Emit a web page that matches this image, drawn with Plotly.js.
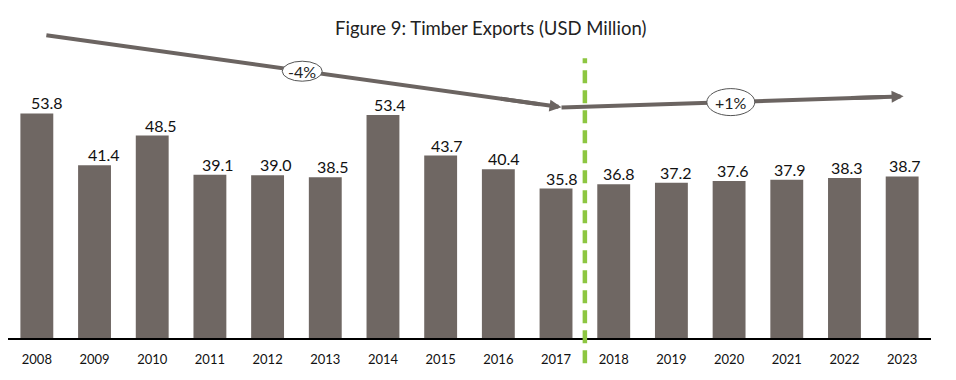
<!DOCTYPE html>
<html>
<head>
<meta charset="utf-8">
<script src="https://cdn.plot.ly/plotly-3.0.1.min.js"></script>
<style>html,body{margin:0;padding:0;background:#fff;}#chart{width:956px;height:380px;}</style>
</head>
<body>
<div id="chart"></div>
<script>
// Data
const years = ['2008','2009','2010','2011','2012','2013','2014','2015','2016','2017','2018','2019','2020','2021','2022','2023'];
const exportsUSDm = [53.8, 41.4, 48.5, 39.1, 39.0, 38.5, 53.4, 43.7, 40.4, 35.8, 36.8, 37.2, 37.6, 37.9, 38.3, 38.7];
const trendLabels = ['-4%', '+1%'];
const chartTitle = 'Figure 9: Timber Exports (USD Million)';

const barColor = '#6f6763';
const arrowColor = '#6b6461';
const greenColor = '#8dc641';
const FONT = 'Lato, Carlito, Calibri, "DejaVu Sans", sans-serif';

const trace = {
  type: 'bar',
  x: years,
  y: exportsUSDm,
  marker: {color: barColor},
  width: 0.57,
  hoverinfo: 'x+y'
};

// value labels (category axis: position by serial index)
const annotations = exportsUSDm.map((v, i) => ({
  x: i, y: v, xref: 'x', yref: 'y',
  text: v.toFixed(1), showarrow: false,
  yanchor: 'bottom', xanchor: 'center', yshift: -1, xshift: 10 - 0.5 * i,
  font: {family: FONT, size: 16, color: '#111'}
}));

// trend arrow geometry (decorative, in axis units: category index / value)
const arr1 = {x0: 0.165, y0: 72.5, xs: 8.713, ys: 56.00, xt: 8.02, yt: 57.34, x1: 9.095, y1: 55.26};
const arr2 = {x0: 9.095, y0: 55.19, xs: 14.695, ys: 57.74, xt: 14.09, yt: 57.46, x1: 15.025, y1: 57.89};
const ell1 = {x: 4.6, y: 63.9, w: 40, h: 20};
const ell2 = {x: 12.03, y: 56.5, w: 48, h: 27};

const shapes = [
  // green dashed divider between 2017 and 2018
  {type: 'line', xref: 'x', yref: 'paper', x0: 9.5, x1: 9.5, y0: -0.077, y1: 0.853,
   line: {color: greenColor, width: 4.5, dash: '13px,7px'}, layer: 'above'},
  {type: 'line', xref: 'x', yref: 'y', x0: arr1.x0, y0: arr1.y0, x1: arr1.xs, y1: arr1.ys,
   line: {color: arrowColor, width: 4}, layer: 'above'},
  {type: 'line', xref: 'x', yref: 'y', x0: arr2.x0, y0: arr2.y0, x1: arr2.xs, y1: arr2.ys,
   line: {color: arrowColor, width: 4}, layer: 'above'}
];
[ell1, ell2].forEach(e => {
  shapes.push({type: 'circle', xref: 'x', yref: 'y', xsizemode: 'pixel', ysizemode: 'pixel',
    xanchor: e.x, yanchor: e.y, x0: -e.w / 2, x1: e.w / 2, y0: -e.h / 2, y1: e.h / 2,
    fillcolor: '#ffffff', line: {color: '#555', width: 1}, layer: 'above'});
});

[arr1, arr2].forEach(a => {
  annotations.push({x: a.x1, y: a.y1, xref: 'x', yref: 'y', axref: 'x', ayref: 'y',
    ax: a.xt, ay: a.yt, text: '', showarrow: true, arrowhead: 2, arrowsize: 0.6,
    arrowwidth: 4, arrowcolor: arrowColor, standoff: 0, startstandoff: 0});
});
[ell1, ell2].forEach((e, k) => {
  annotations.push({x: e.x, y: e.y, xref: 'x', yref: 'y', text: trendLabels[k], showarrow: false,
    xanchor: 'center', yanchor: 'middle', font: {family: FONT, size: 16, color: '#222'}});
});

const layout = {
  width: 956, height: 380,
  margin: {l: 8, r: 25, t: 10, b: 42, pad: 0},
  paper_bgcolor: '#fff', plot_bgcolor: '#fff',
  showlegend: false,
  title: {text: chartTitle, x: 0.523, xref: 'paper', xanchor: 'center', y: 0.926, yref: 'container', yanchor: 'middle',
    font: {family: FONT, size: 18.5, color: '#222'}},
  xaxis: {type: 'category', range: [-0.5, 15.5], showline: true, linecolor: '#000', linewidth: 1.5,
    ticks: 'outside', ticklen: 9, tickcolor: 'rgba(0,0,0,0)', showgrid: false, zeroline: false,
    tickfont: {family: FONT, size: 13, color: '#111'}, fixedrange: true},
  yaxis: {range: [0, 78.56], visible: false, showgrid: false, zeroline: false, fixedrange: true},
  shapes: shapes,
  annotations: annotations
};

Plotly.newPlot('chart', [trace], layout, {displayModeBar: false, staticPlot: true});
</script>
</body>
</html>
